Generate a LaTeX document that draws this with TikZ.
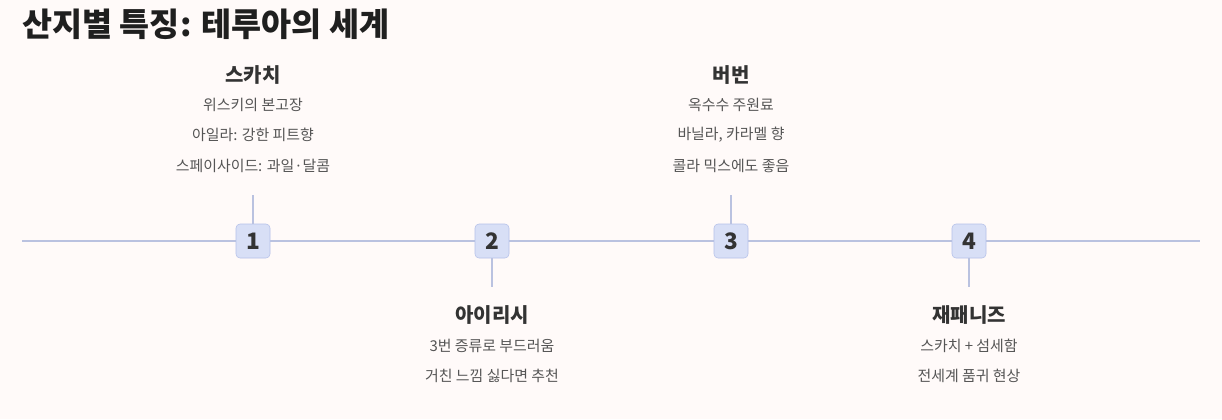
\documentclass[tikz,border=0pt]{standalone}
\usepackage{fontspec}
\setmainfont{Noto Sans CJK KR}
\usetikzlibrary{positioning}
\definecolor{bgpaper}{HTML}{FFFAF9}
\definecolor{tlline}{HTML}{BAC2E0}
\definecolor{markfill}{HTML}{D8DFF6}
\definecolor{markedge}{HTML}{B4C0E8}
\definecolor{inkdark}{HTML}{333333}
\definecolor{inkgray}{HTML}{555555}

\begin{document}
\begin{tikzpicture}[x=0.75pt, y=-0.75pt,
  marker/.style={draw=markedge, fill=markfill, rounded corners=3pt, minimum size=25.5pt, inner sep=0pt, text=inkdark, font=\fontsize{17}{20}\selectfont\bfseries},
  heading/.style={text=inkdark, font=\fontsize{15}{18}\selectfont\bfseries},
  detail/.style={text=inkgray, font=\fontsize{11.2}{13}\selectfont},
  stem/.style={tlline, line width=1.5pt}]
  \fill[bgpaper] (0,0) rectangle (1222,419);
  \useasboundingbox (0,0) rectangle (1222,419);
  \node[anchor=base west, inner sep=0pt, text=black!88, font=\fontsize{24.5}{29}\selectfont\bfseries] (title) at (22,36) {산지별 특징: 테루아의 세계};
  % timeline
  \coordinate (tlstart) at (22,241);
  \coordinate (tlend) at (1200,241);
  \draw[tlline, line width=1.2pt] (tlstart) -- (tlend);
  \foreach \i/\x in {1/253,2/492,3/731,4/969} \node[marker] (m\i) at (\x,241) {\i};
  % stems
  \coordinate (s1) at (253,195);
  \coordinate (s2) at (492,287);
  \coordinate (s3) at (731,195);
  \coordinate (s4) at (969,287);
  \draw[stem] (m1.north) -- (s1);
  \draw[stem] (m2.south) -- (s2);
  \draw[stem] (m3.north) -- (s3);
  \draw[stem] (m4.south) -- (s4);
  % labels above
  \node[heading] (h1) at (253,75) {스카치};
  \node[detail] (d1a) at (253,105) {위스키의 본고장};
  \node[detail] (d1b) at (253,135) {아일라: 강한 피트향};
  \node[detail] (d1c) at (253,166) {스페이사이드: 과일·달콤};
  \node[heading] (h3) at (731,75) {버번};
  \node[detail] (d3a) at (731,105) {옥수수 주원료};
  \node[detail] (d3b) at (731,135) {바닐라, 카라멜 향};
  \node[detail] (d3c) at (731,166) {콜라 믹스에도 좋음};
  % labels below
  \node[heading] (h2) at (492,315) {아이리시};
  \node[detail] (d2a) at (492,346) {3번 증류로 부드러움};
  \node[detail] (d2b) at (492,376) {거친 느낌 싫다면 추천};
  \node[heading] (h4) at (969,315) {재패니즈};
  \node[detail] (d4a) at (969,346) {스카치 + 섬세함};
  \node[detail] (d4b) at (969,376) {전세계 품귀 현상};
\end{tikzpicture}
\end{document}
